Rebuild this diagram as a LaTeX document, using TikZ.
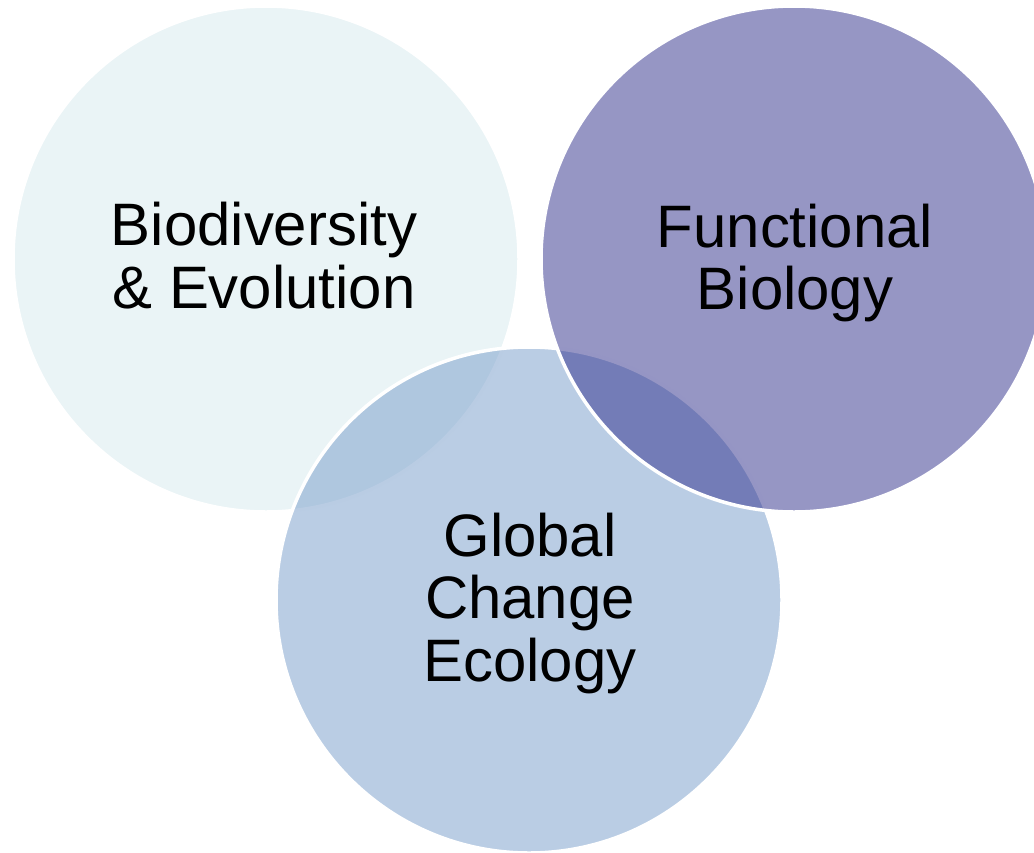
\documentclass[tikz,border=0pt]{standalone}
\usepackage{fontspec}
\setmainfont{Liberation Sans}
\definecolor{bioc}{RGB}{234,244,246}
\definecolor{func}{RGB}{45,45,138}
\definecolor{glob}{RGB}{117,155,201}
\tikzset{
  venn/.style={draw=white, line width=0.07cm},
  lbl/.style={align=center, inner sep=0pt, anchor=center, text=black,
    font=\fontsize{34.1pt}{35.6pt}\selectfont}
}
\begin{document}
\begin{tikzpicture}[x=0.02cm, y=-0.02cm]
\useasboundingbox (0,0) rectangle (1034,852);
\clip (0,0) rectangle (1034,852);
\path[venn, fill=bioc] (266,259) circle[radius=253];
\path[venn, fill=glob, fill opacity=0.5] (529,600) circle[radius=253];
\path[venn, fill=func, fill opacity=0.5] (794,259) circle[radius=253];
\node[lbl] (bio) at (264,255.5) {Biodiversity\\\& Evolution};
\node[lbl] (fun) at (795,263) {Functional\\Biology};
\node[lbl] (glo) at (530,603.5) {Global\\Change\\Ecology};
\end{tikzpicture}
\end{document}
